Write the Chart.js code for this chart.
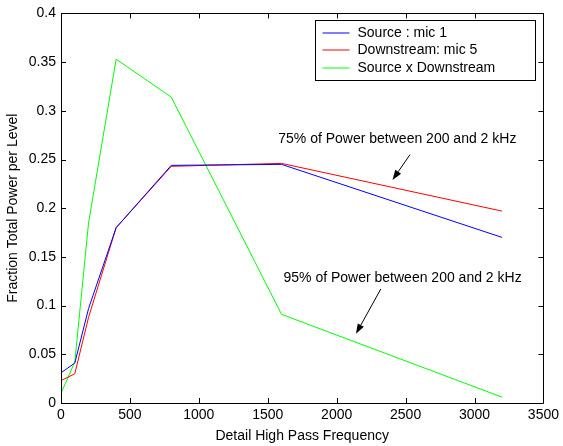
<!DOCTYPE html>
<html>
<head>
<meta charset="utf-8">
<script src="https://cdn.jsdelivr.net/npm/chart.js@4.4.0/dist/chart.umd.min.js"></script>
<style>
  html, body { margin: 0; padding: 0; background: #fff; }
</style>
</head>
<body>
<canvas id="myChart" width="563" height="446"></canvas>
<script>
// high pass cutoff frequencies (Hz)
var freqs = [0, 100, 200, 400, 800, 1600, 3200];

// fraction of total power per level
var sourceMic1 = [0.031, 0.041, 0.097, 0.180, 0.244, 0.245, 0.170];
var downstreamMic5 = [0.023, 0.030, 0.088, 0.180, 0.243, 0.246, 0.197];
var sourceXDownstream = [0.010, 0.042, 0.185, 0.353, 0.314, 0.091, 0.006];

var seriesNames = ['Source : mic 1', 'Downstream: mic 5', 'Source x Downstream'];
var seriesColors = ['#0000ff', '#ff0000', '#00ff00'];

var xTicks = [0, 500, 1000, 1500, 2000, 2500, 3000, 3500];
var yTicks = [0, 0.05, 0.1, 0.15, 0.2, 0.25, 0.3, 0.35, 0.4];

// text notes with arrows, in data units
var notes = [
    { text: '75% of Power between 200 and 2 kHz', x: 2440, y: 0.271, from: [2532, 0.255], to: [2405, 0.229] },
    { text: '95% of Power between 200 and 2 kHz', x: 2478, y: 0.128, from: [2320, 0.117], to: [2140, 0.071] }
];

var FONT = 'Liberation Sans, Arial, Helvetica, sans-serif';

function toPoints(ys) {
    return freqs.map(function (f, i) { return { x: f, y: ys[i] }; });
}

// matlab style box: frame, inward ticks, legend and notes
var matlabBox = {
    id: 'matlabBox',
    afterDraw: function (chart) {
        var ctx = chart.ctx;
        var a = chart.chartArea;
        var xs = chart.scales.x, ys = chart.scales.y;
        var tl = 5;

        ctx.save();
        ctx.strokeStyle = '#000';
        ctx.lineWidth = 1;
        ctx.beginPath();
        ctx.rect(Math.round(a.left) + 0.5, Math.round(a.top) + 0.5,
                 Math.round(a.right - a.left), Math.round(a.bottom - a.top));
        ctx.stroke();

        ctx.beginPath();
        xTicks.forEach(function (v) {
            var px = Math.round(xs.getPixelForValue(v)) + 0.5;
            ctx.moveTo(px, a.bottom); ctx.lineTo(px, a.bottom - tl);
            ctx.moveTo(px, a.top); ctx.lineTo(px, a.top + tl);
        });
        yTicks.forEach(function (v) {
            var py = Math.round(ys.getPixelForValue(v)) + 0.5;
            ctx.moveTo(a.left, py); ctx.lineTo(a.left + tl, py);
            ctx.moveTo(a.right, py); ctx.lineTo(a.right - tl, py);
        });
        ctx.stroke();

        // notes
        ctx.font = '14px ' + FONT;
        ctx.fillStyle = '#000';
        ctx.textAlign = 'center';
        ctx.textBaseline = 'middle';
        notes.forEach(function (n) {
            ctx.fillText(n.text, xs.getPixelForValue(n.x), ys.getPixelForValue(n.y));
            var x1 = xs.getPixelForValue(n.from[0]), y1 = ys.getPixelForValue(n.from[1]);
            var x2 = xs.getPixelForValue(n.to[0]), y2 = ys.getPixelForValue(n.to[1]);
            var ang = Math.atan2(y2 - y1, x2 - x1);
            var hl = 10, hw = 3.5;
            var bx = x2 - hl * Math.cos(ang), by = y2 - hl * Math.sin(ang);
            ctx.strokeStyle = '#000';
            ctx.beginPath();
            ctx.moveTo(x1, y1); ctx.lineTo(bx, by);
            ctx.stroke();
            ctx.beginPath();
            ctx.moveTo(x2, y2);
            ctx.lineTo(bx + hw * Math.sin(ang), by - hw * Math.cos(ang));
            ctx.lineTo(bx - hw * Math.sin(ang), by + hw * Math.cos(ang));
            ctx.closePath();
            ctx.fill();
        });

        // legend
        var lw = 220, lh = 60;
        var lx = Math.round(a.right - 8 - lw) + 0.5, ly = Math.round(a.top + 7) + 0.5;
        ctx.fillStyle = '#fff';
        ctx.fillRect(lx, ly, lw, lh);
        ctx.strokeStyle = '#000';
        ctx.strokeRect(lx, ly, lw, lh);
        ctx.textAlign = 'left';
        seriesNames.forEach(function (name, i) {
            var ry = Math.round(ly + 12 + i * 17.5);
            ctx.strokeStyle = seriesColors[i];
            ctx.beginPath();
            ctx.moveTo(lx + 7, ry); ctx.lineTo(lx + 34, ry);
            ctx.stroke();
            ctx.fillStyle = '#000';
            ctx.fillText(name, lx + 42, ry);
        });
        ctx.restore();
    }
};

var ctx = document.getElementById('myChart').getContext('2d');
var chart = new Chart(ctx, {
    type: 'line',
    data: {
        datasets: [{
            label: seriesNames[0],
            data: toPoints(sourceMic1),
            borderColor: seriesColors[0]
        }, {
            label: seriesNames[1],
            data: toPoints(downstreamMic5),
            borderColor: seriesColors[1]
        }, {
            label: seriesNames[2],
            data: toPoints(sourceXDownstream),
            borderColor: seriesColors[2]
        }]
    },
    options: {
        responsive: false,
        animation: false,
        layout: { padding: { top: 12, right: 16, left: 0, bottom: 0 } },
        elements: {
            line: { borderWidth: 1, tension: 0 },
            point: { radius: 0 }
        },
        plugins: {
            legend: { display: false },
            tooltip: { enabled: false }
        },
        scales: {
            x: {
                type: 'linear',
                min: 0,
                max: 3500,
                afterFit: function (s) { s.height = 43; },
                grid: { display: false, drawTicks: false },
                border: { display: false },
                afterBuildTicks: function (s) { s.ticks = xTicks.map(function (v) { return { value: v }; }); },
                ticks: {
                    color: '#000',
                    padding: 4,
                    maxRotation: 0,
                    font: { family: FONT, size: 14 },
                    callback: function (v) { return String(v); }
                },
                title: {
                    display: true,
                    text: 'Detail High Pass Frequency',
                    color: '#000',
                    font: { family: FONT, size: 14 },
                    padding: { top: 0, bottom: 1 }
                }
            },
            y: {
                min: 0,
                max: 0.4,
                afterFit: function (s) { s.width = 61; },
                grid: { display: false, drawTicks: false },
                border: { display: false },
                afterBuildTicks: function (s) { s.ticks = yTicks.map(function (v) { return { value: v }; }); },
                ticks: {
                    color: '#000',
                    padding: 5,
                    font: { family: FONT, size: 14 },
                    callback: function (v) { return String(Math.round(v * 100) / 100); }
                },
                title: {
                    display: true,
                    text: 'Fraction Total Power per Level',
                    color: '#000',
                    font: { family: FONT, size: 14 },
                    padding: { top: 5, bottom: 0 }
                }
            }
        }
    },
    plugins: [matlabBox]
});
</script>
</body>
</html>
